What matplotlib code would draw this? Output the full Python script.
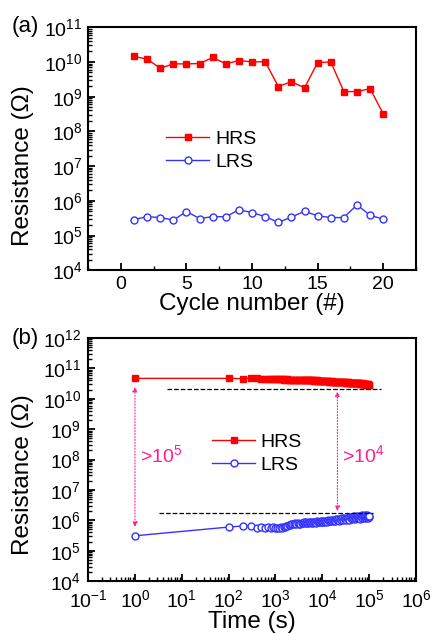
import matplotlib
matplotlib.use('Agg')
import matplotlib.pyplot as plt
from matplotlib.ticker import FixedLocator, LogLocator, MultipleLocator, NullFormatter

plt.rcParams['font.family'] = ['Liberation Sans', 'DejaVu Sans']
plt.rcParams['mathtext.fontset'] = 'custom'
plt.rcParams['mathtext.rm'] = 'Liberation Sans'
plt.rcParams['mathtext.it'] = 'Liberation Sans'

# (a) endurance
cycles = list(range(1, 21))
hrs_a = [1.45e10, 1.2e10, 6.6e9, 8.8e9, 8.8e9, 9.0e9, 1.35e10, 8.8e9, 1.1e10, 1.0e10,
         1.02e10, 1.96e9, 2.7e9, 1.8e9, 9.6e9, 1.0e10, 1.4e9, 1.4e9, 1.7e9, 3.2e8]
lrs_a = [2.9e5, 3.5e5, 3.3e5, 2.8e5, 4.9e5, 3.1e5, 3.5e5, 3.5e5, 5.5e5, 4.6e5,
         3.5e5, 2.4e5, 3.4e5, 5.0e5, 3.7e5, 3.3e5, 3.3e5, 7.7e5, 3.8e5, 3.0e5]

# (b) retention
time_b = [1, 100, 200, 300, 400, 500, 600, 700, 800, 900, 1000, 1100, 1200, 1300, 1400,
          1500, 1600, 1700, 1800, 1900, 2000, 2150, 2300, 2450, 2600, 2800, 3000, 3200,
          3400, 3600, 3800, 4000, 4200, 4450, 4700, 4950, 5200, 5500, 5800, 6100, 6400,
          6700, 7000, 7350, 7700, 8100, 8500, 8900, 9300, 9650, 10000, 10500, 11000,
          11500, 12000, 12500, 13000, 13700, 14500, 15200, 16000, 16700, 17500, 18200,
          19000, 20000, 21000, 22000, 23000, 24000, 25000, 26200, 27500, 28700, 30000,
          31500, 33000, 34500, 36000, 37500, 39000, 40500, 42000, 43700, 45500, 47200,
          49000, 51000, 53000, 55000, 57000, 59000, 61000, 63000, 65000, 67200, 69500,
          71700, 74000, 76200, 78500, 80700, 83000, 85200, 87500, 89700, 92000, 94000,
          96000, 98000, 100000]
hrs_b = [4.7e10, 4.7e10, 4.6e10, 4.8e10, 4.7e10, 4.6e10, 4.5e10, 4.6e10, 4.5e10, 4.4e10,
         4.4e10, 4.5e10, 4.5e10, 4.4e10, 4.4e10, 4.3e10, 4.4e10, 4.3e10, 4.4e10, 4.3e10,
         4.3e10, 4.3e10, 4.2e10, 4.3e10, 4.2e10, 4.2e10, 4.3e10, 4.2e10, 4.2e10, 4.1e10,
         4.1e10, 4.2e10, 4.2e10, 4.1e10, 4.1e10, 4.0e10, 4.0e10, 4.1e10, 4.1e10, 4.0e10,
         4.0e10, 3.9e10, 3.9e10, 4.0e10, 4.0e10, 3.9e10, 3.9e10, 3.9e10, 3.9e10, 3.8e10,
         3.9e10, 3.8e10, 3.8e10, 3.9e10, 3.9e10, 3.8e10, 3.8e10, 3.7e10, 3.7e10, 3.8e10,
         3.8e10, 3.7e10, 3.7e10, 3.6e10, 3.6e10, 3.7e10, 3.7e10, 3.6e10, 3.6e10, 3.5e10,
         3.5e10, 3.6e10, 3.6e10, 3.5e10, 3.5e10, 3.4e10, 3.4e10, 3.5e10, 3.5e10, 3.4e10,
         3.4e10, 3.3e10, 3.3e10, 3.4e10, 3.4e10, 3.3e10, 3.3e10, 3.2e10, 3.2e10, 3.3e10,
         3.3e10, 3.2e10, 3.2e10, 3.1e10, 3.1e10, 3.2e10, 3.2e10, 3.1e10, 3.1e10, 3.0e10,
         3.0e10, 3.1e10, 3.1e10, 3.0e10, 3.0e10, 2.9e10, 2.9e10, 3.0e10, 3.0e10, 2.9e10,
         2.9e10]
lrs_b = [3.1e5, 6.0e5, 6.5e5, 6.5e5, 5.6e5, 5.9e5, 5.5e5, 5.9e5, 5.7e5, 6.0e5,
         5.8e5, 5.6e5, 5.5e5, 6.0e5, 5.7e5, 6.1e5, 6.2e5, 6.4e5, 6.5e5, 6.9e5,
         6.8e5, 7.3e5, 7.5e5, 7.8e5, 8.0e5, 7.6e5, 8.2e5, 7.7e5, 7.8e5, 8.4e5,
         8.0e5, 8.6e5, 7.9e5, 8.8e5, 8.3e5, 8.1e5, 9.0e5, 8.5e5, 8.2e5, 8.9e5,
         8.4e5, 9.1e5, 8.6e5, 8.3e5, 9.3e5, 8.7e5, 9.0e5, 8.5e5, 9.5e5, 8.8e5,
         9.3e5, 8.7e5, 9.6e5, 9.0e5, 9.8e5, 8.8e5, 1.0e6, 9.2e5, 9.6e5, 1.02e6,
         9.4e5, 1.05e6, 9.5e5, 1.0e6, 9.3e5, 1.08e6, 1.0e6, 1.1e6, 9.8e5, 1.12e6,
         1.03e6, 1.15e6, 1.05e6, 1.2e6, 1.1e6, 1.0e6, 1.22e6, 1.08e6, 1.18e6, 1.04e6,
         1.25e6, 1.15e6, 1.3e6, 1.1e6, 1.2e6, 1.35e6, 1.12e6, 1.28e6, 1.18e6, 1.4e6,
         1.15e6, 1.3e6, 1.22e6, 1.38e6, 1.1e6, 1.3e6, 1.45e6, 1.2e6, 1.35e6, 1.15e6,
         1.4e6, 1.25e6, 1.5e6, 1.2e6, 1.35e6, 1.28e6, 1.45e6, 1.18e6, 1.4e6, 1.3e6,
         1.35e6]

yticks_a = [1e4, 1e5, 1e6, 1e7, 1e8, 1e9, 1e10, 1e11]
yticks_b = [1e4, 1e5, 1e6, 1e7, 1e8, 1e9, 1e10, 1e11, 1e12]
xticks_b = [1e-1, 1e0, 1e1, 1e2, 1e3, 1e4, 1e5, 1e6]

red = '#ff0000'
blue = '#3333ff'
pink = '#ff1f8f'

fig = plt.figure(figsize=(4.32, 6.33), dpi=100)
ax1 = fig.add_axes([0.204, 0.573, 0.759, 0.384])
ax2 = fig.add_axes([0.204, 0.082, 0.759, 0.384])


def style(ax, yticks):
    for s in ax.spines.values():
        s.set_linewidth(1.5)
    ax.tick_params(which='both', direction='in', top=False, right=False, labelsize=14)
    ax.tick_params(which='major', length=5, width=1.3, pad=4)
    ax.tick_params(which='minor', length=3, width=1.0)
    ax.set_yscale('log')
    ax.yaxis.set_major_locator(FixedLocator(yticks))
    ax.yaxis.set_minor_locator(LogLocator(base=10, subs=range(2, 10), numticks=20))
    ax.yaxis.set_minor_formatter(NullFormatter())


# panel (a)
ax1.plot(cycles, hrs_a, '-s', color=red, lw=1.0, ms=4, label='HRS')
ax1.plot(cycles, lrs_a, '-o', color=blue, mfc='white', mec=blue, lw=1.0, ms=5, label='LRS')
style(ax1, yticks_a)
ax1.set_xlim(-2.5, 22.5)
ax1.set_ylim(1e4, 1e11)
ax1.xaxis.set_major_locator(FixedLocator([0, 5, 10, 15, 20]))
ax1.xaxis.set_minor_locator(MultipleLocator(2.5))
ax1.set_xlabel('Cycle number (#)', fontsize=17.5, labelpad=0)
ax1.set_ylabel('Resistance (Ω)', fontsize=17.5)
ax1.yaxis.set_label_coords(-0.165, 0.43)
ax1.legend(loc='center left', bbox_to_anchor=(0.185, 0.492), frameon=False, fontsize=14,
           handlelength=2.2, handletextpad=0.3, labelspacing=0.25)
fig.text(0.028, 0.95, '(a)', fontsize=16)

# panel (b)
ax2.plot(time_b, hrs_b, '-s', color=red, lw=1.0, ms=4, label='HRS')
ax2.plot(time_b, lrs_b, '-o', color=blue, mfc='white', mec=blue, lw=1.0, ms=5, label='LRS')
style(ax2, yticks_b)
ax2.set_xscale('log')
ax2.set_xlim(1e-1, 1e6)
ax2.set_ylim(1e4, 1e12)
ax2.xaxis.set_major_locator(FixedLocator(xticks_b))
ax2.xaxis.set_minor_locator(LogLocator(base=10, subs=range(2, 10), numticks=20))
ax2.xaxis.set_minor_formatter(NullFormatter())
ax2.tick_params(axis='x', which='major', pad=5.5)
ax2.tick_params(axis='y', which='major', pad=5)
ax2.set_xlabel('Time (s)', fontsize=17.5, labelpad=0)
ax2.set_ylabel('Resistance (Ω)', fontsize=17.5)
ax2.yaxis.set_label_coords(-0.165, 0.436)
ax2.legend(loc='center left', bbox_to_anchor=(0.325, 0.525), frameon=False, fontsize=14,
           handlelength=2.2, handletextpad=0.3, labelspacing=0.25)
fig.text(0.028, 0.457, '(b)', fontsize=16)

ax2.plot([4.8, 1.8e5], [2.1e10, 2.1e10], '--', color='black', lw=0.9)
ax2.plot([3.3, 1.2e5], [1.8e6, 1.8e6], '--', color='black', lw=0.9)
ax2.annotate('', xy=(1, 2.5e10), xytext=(1, 6e5),
             arrowprops=dict(arrowstyle='<|-|>', color=pink, ls=':', lw=0.8,
                             mutation_scale=7, shrinkA=0, shrinkB=0))
ax2.annotate('', xy=(2.1e4, 1.75e10), xytext=(2.1e4, 2.0e6),
             arrowprops=dict(arrowstyle='<|-|>', color=pink, ls=':', lw=0.8,
                             mutation_scale=7, shrinkA=0, shrinkB=0))
ax2.text(1.3, 1.4e8, r'>10$^5$', color=pink, fontsize=14, va='center', ha='left')
ax2.text(2.6e4, 1.4e8, r'>10$^4$', color=pink, fontsize=14, va='center', ha='left')

fig.savefig('out.png', dpi=100)
